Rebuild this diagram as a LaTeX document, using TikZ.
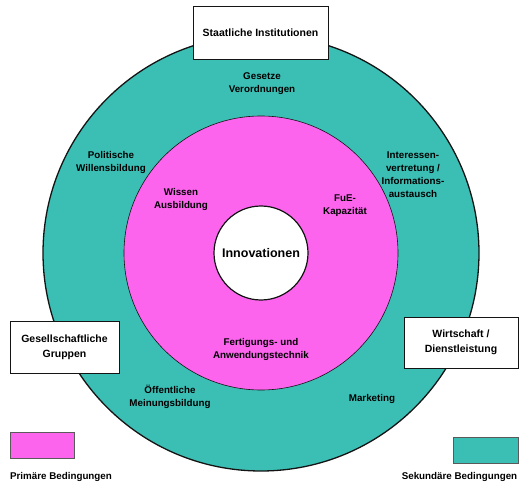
\documentclass[tikz,border=0pt]{standalone}
\usepackage{fontspec}
\setmainfont{Liberation Sans}
\usetikzlibrary{positioning}
\usepackage{xcolor}
\definecolor{ringteal}{RGB}{59,191,181}
\definecolor{ringpink}{RGB}{252,100,238}
\definecolor{lineblack}{RGB}{20,20,20}
\definecolor{legendgray}{RGB}{90,90,90}

\begin{document}
\begin{tikzpicture}[x=1pt, y=-1pt, font=\bfseries\fontsize{9.8}{13}\selectfont,
  ring/.style={circle, draw=lineblack, inner sep=0pt},
  instbox/.style={rectangle, draw=lineblack, fill=white, align=center, line width=0.7pt, font=\bfseries\fontsize{10.5}{15}\selectfont},
  lbl/.style={align=center, inner sep=1pt},
  legendbox/.style={rectangle, draw=legendgray, line width=0.6pt, minimum width=64pt, minimum height=26pt}]
\useasboundingbox (0,0) rectangle (528,492);

% rings
\node[ring, fill=ringteal, line width=1.3pt, minimum size=436pt] (outer) at (261,253) {};
\node[ring, fill=ringpink, line width=0.6pt, minimum size=274pt] (middle) at (outer.center) {};
\node[ring, fill=white, line width=1.2pt, minimum size=94pt, font=\bfseries\fontsize{12.5}{15}\selectfont] (core) at (outer.center) {Innovationen};

% primary conditions
\node[lbl] (wissen) at (181,199) {Wissen\\Ausbildung};
\node[lbl] (fue) at (345,206) {FuE-\\Kapazität};
\node[lbl] (fertigung) at (261,349) {Fertigungs- und\\Anwendungstechnik};

% secondary conditions
\node[lbl] (gesetze) at (262,84) {Gesetze\\Verordnungen};
\node[lbl] (politik) at (111,162) {Politische\\Willensbildung};
\node[lbl] (interessen) at (413,175) {Interessen-\\vertretung /\\Informations-\\austausch};
\node[lbl] (meinung) at (170,397) {Öffentliche\\Meinungsbildung};
\node[lbl] (marketing) at (372,399) {Marketing};

% institutions
\node[instbox, minimum width=135pt, minimum height=53pt] (staat) at (260.5,33) {Staatliche Institutionen};
\node[instbox, minimum width=109pt, minimum height=52pt] (gesellschaft) at (64.5,347) {Gesellschaftliche\\Gruppen};
\node[instbox, minimum width=114pt, minimum height=51pt] (wirtschaft) at (461,342.5) {Wirtschaft /\\Dienstleistung};

% legend
\node[legendbox, fill=ringpink] (keyprim) at (42,445) {};
\node[below=13pt of keyprim, xshift=19pt, inner sep=1pt] (keyprimtxt) {Primäre Bedingungen};
\node[legendbox, fill=ringteal, minimum width=65pt] (keysek) at (485.5,450) {};
\node[below=8pt of keysek, xshift=-26pt, inner sep=1pt] (keysektxt) {Sekundäre Bedingungen};
\end{tikzpicture}
\end{document}
